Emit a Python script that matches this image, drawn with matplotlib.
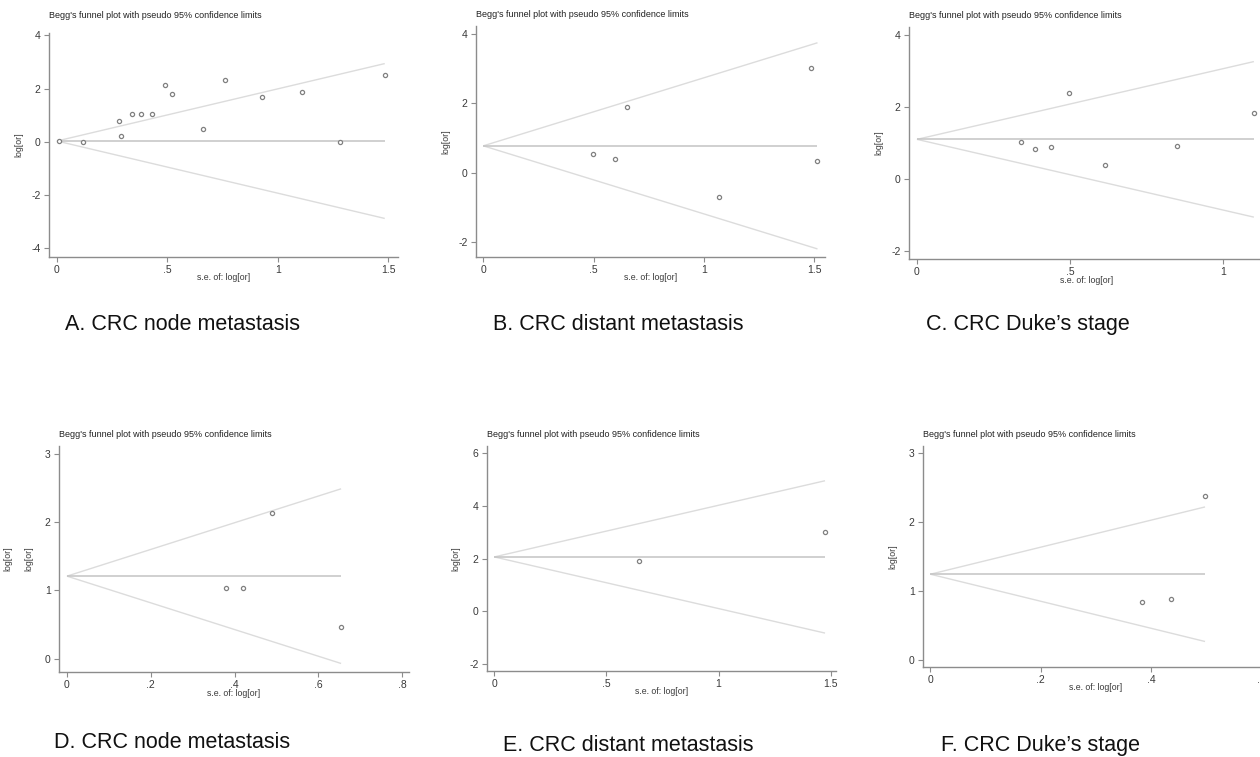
import matplotlib
matplotlib.use('Agg')
import matplotlib.pyplot as plt
import numpy as np

plt.rcParams['font.family'] = ['Liberation Sans', 'DejaVu Sans']

# ---------------- data ----------------
plot_title = "Begg's funnel plot with pseudo 95% confidence limits"
x_label = "s.e. of: log[or]"
y_label = "log[or]"
captions = ["A. CRC node metastasis", "B. CRC distant metastasis", "C. CRC Duke\u2019s stage",
            "D. CRC node metastasis", "E. CRC distant metastasis", "F. CRC Duke\u2019s stage"]

se_A = [0.011, 0.12, 0.28, 0.29, 0.34, 0.38, 0.43, 0.49, 0.52, 0.66, 0.76, 0.93, 1.11, 1.28, 1.485]
lor_A = [0.02, 0.00, 0.78, 0.23, 1.05, 1.05, 1.05, 2.14, 1.78, 0.49, 2.34, 1.69, 1.87, 0.01, 2.50]
theta_A = 0.03

se_B = [0.495, 0.597, 0.65, 1.066, 1.483, 1.514]
lor_B = [0.54, 0.39, 1.90, -0.70, 3.02, 0.34]
theta_B = 0.78

se_C = [0.339, 0.386, 0.437, 0.497, 0.613, 0.85, 1.10]
lor_C = [1.03, 0.85, 0.90, 2.39, 0.39, 0.93, 1.84]
theta_C = 1.106

se_D = [0.38, 0.421, 0.489, 0.654]
lor_D = [1.03, 1.03, 2.13, 0.47]
theta_D = 1.21

se_E = [0.645, 1.475]
lor_E = [1.92, 3.02]
theta_E = 2.07

se_F = [0.384, 0.436, 0.498]
lor_F = [0.84, 0.88, 2.37]
theta_F = 1.24

xticks_A = [0, 0.5, 1, 1.5]; yticks_A = [-4, -2, 0, 2, 4]
xticks_B = [0, 0.5, 1, 1.5]; yticks_B = [-2, 0, 2, 4]
xticks_C = [0, 0.5, 1]; yticks_C = [-2, 0, 2, 4]
xticks_D = [0, 0.2, 0.4, 0.6, 0.8]; yticks_D = [0, 1, 2, 3]
xticks_E = [0, 0.5, 1, 1.5]; yticks_E = [-2, 0, 2, 4, 6]
xticks_F = [0, 0.2, 0.4, 0.6]; yticks_F = [0, 1, 2, 3]

# ---------------- layout ----------------
W, H = 1260, 757
fig = plt.figure(figsize=(W / 100, H / 100), dpi=100)
fig.patch.set_facecolor('white')


def fx(x):
    return x / W


def fy(y):
    return 1 - y / H


def fmt(v):
    s = f"{v:g}"
    if s.startswith("0."):
        s = s[1:]
    elif s.startswith("-0."):
        s = "-" + s[2:]
    return s


SPINE = '#8c8c8c'
TXT = '#3a3a3a'

panels = [
    # se, lor, theta, xticks, yticks, (l,t,r,b) px, xlim, ylim, ylabel x px, caption (x, baseline), xlabel offset px
    (se_A, lor_A, theta_A, xticks_A, yticks_A, (49, 33, 398, 257), (-0.036, 1.545), (-4.33, 4.09), 19, (65, 330), 20),
    (se_B, lor_B, theta_B, xticks_B, yticks_B, (476, 26, 825, 257), (-0.033, 1.548), (-2.42, 4.23), 446, (493, 330), 20),
    (se_C, lor_C, theta_C, xticks_C, yticks_C, (909, 27, 1264, 259), (-0.026, 1.133), (-2.21, 4.22), 879, (926, 330), 21.5),
    (se_D, lor_D, theta_D, xticks_D, yticks_D, (59, 446, 409, 672), (-0.019, 0.816), (-0.197, 3.12), 29, (54, 748), 21.5),
    (se_E, lor_E, theta_E, xticks_E, yticks_E, (487, 446, 836, 671), (-0.0325, 1.524), (-2.26, 6.28), 456, (503, 751), 20),
    (se_F, lor_F, theta_F, xticks_F, yticks_F, (923, 446, 1269, 667), (-0.0134, 0.614), (-0.106, 3.10), 893, (941, 751), 20),
]

for i, (se, lor, theta, xt, yt, box, xl, yl, ylx, cap, xoff) in enumerate(panels):
    l, t, r, b = box
    ax = fig.add_axes([fx(l), fy(b), (r - l) / W, (b - t) / H])
    s = np.array([0.0, max(se)])
    ax.plot(s, theta + 1.96 * s, color='#dcdcdc', lw=1.0, solid_capstyle='butt')
    ax.plot(s, theta - 1.96 * s, color='#dcdcdc', lw=1.0, solid_capstyle='butt')
    ax.plot(s, [theta, theta], color='#c4c4c4', lw=1.1, solid_capstyle='butt')
    ax.plot(se, lor, linestyle='none', marker='o', markersize=3.0, markerfacecolor='white',
            markeredgecolor='#808080', markeredgewidth=0.9, clip_on=False)
    for side in ('top', 'right'):
        ax.spines[side].set_visible(False)
    for side in ('left', 'bottom'):
        ax.spines[side].set_color(SPINE)
        ax.spines[side].set_linewidth(1.0)
    ax.set_xticks(xt)
    ax.set_xticklabels([fmt(v) for v in xt])
    ax.set_yticks(yt)
    ax.set_yticklabels([fmt(v) for v in yt])
    ax.set_xlim(*xl)
    ax.set_ylim(*yl)
    ax.tick_params(axis='both', direction='out', length=3.5, width=0.8, color=SPINE,
                   labelsize=7.5, labelcolor=TXT, pad=2.5)
    ax.set_facecolor('none')
    ax.patch.set_alpha(0)

    ax.set_xlabel(x_label, fontsize=6.3, color=TXT, va='center')
    ax.xaxis.set_label_coords(0.5, -xoff / (b - t))
    ax.set_ylabel(y_label, fontsize=6.3, color=TXT, va='center')
    ax.yaxis.set_label_coords((ylx - l) / (r - l), 0.5)

    fig.text(fx(l), fy(t - 9 if i not in (0,) else 17.5), plot_title, fontsize=6.5,
             color='#222222', ha='left', va='baseline')
    fig.text(fx(cap[0]), fy(cap[1]), captions[i], fontsize=15.5, color='#111111',
             ha='left', va='baseline')

# duplicated y-label fragment visible at the far left of panel D
fig.text(fx(8), fy(559), y_label, fontsize=6.3, color=TXT, rotation=90, ha='center', va='center')

fig.savefig('out.png', dpi=100, facecolor='white')
